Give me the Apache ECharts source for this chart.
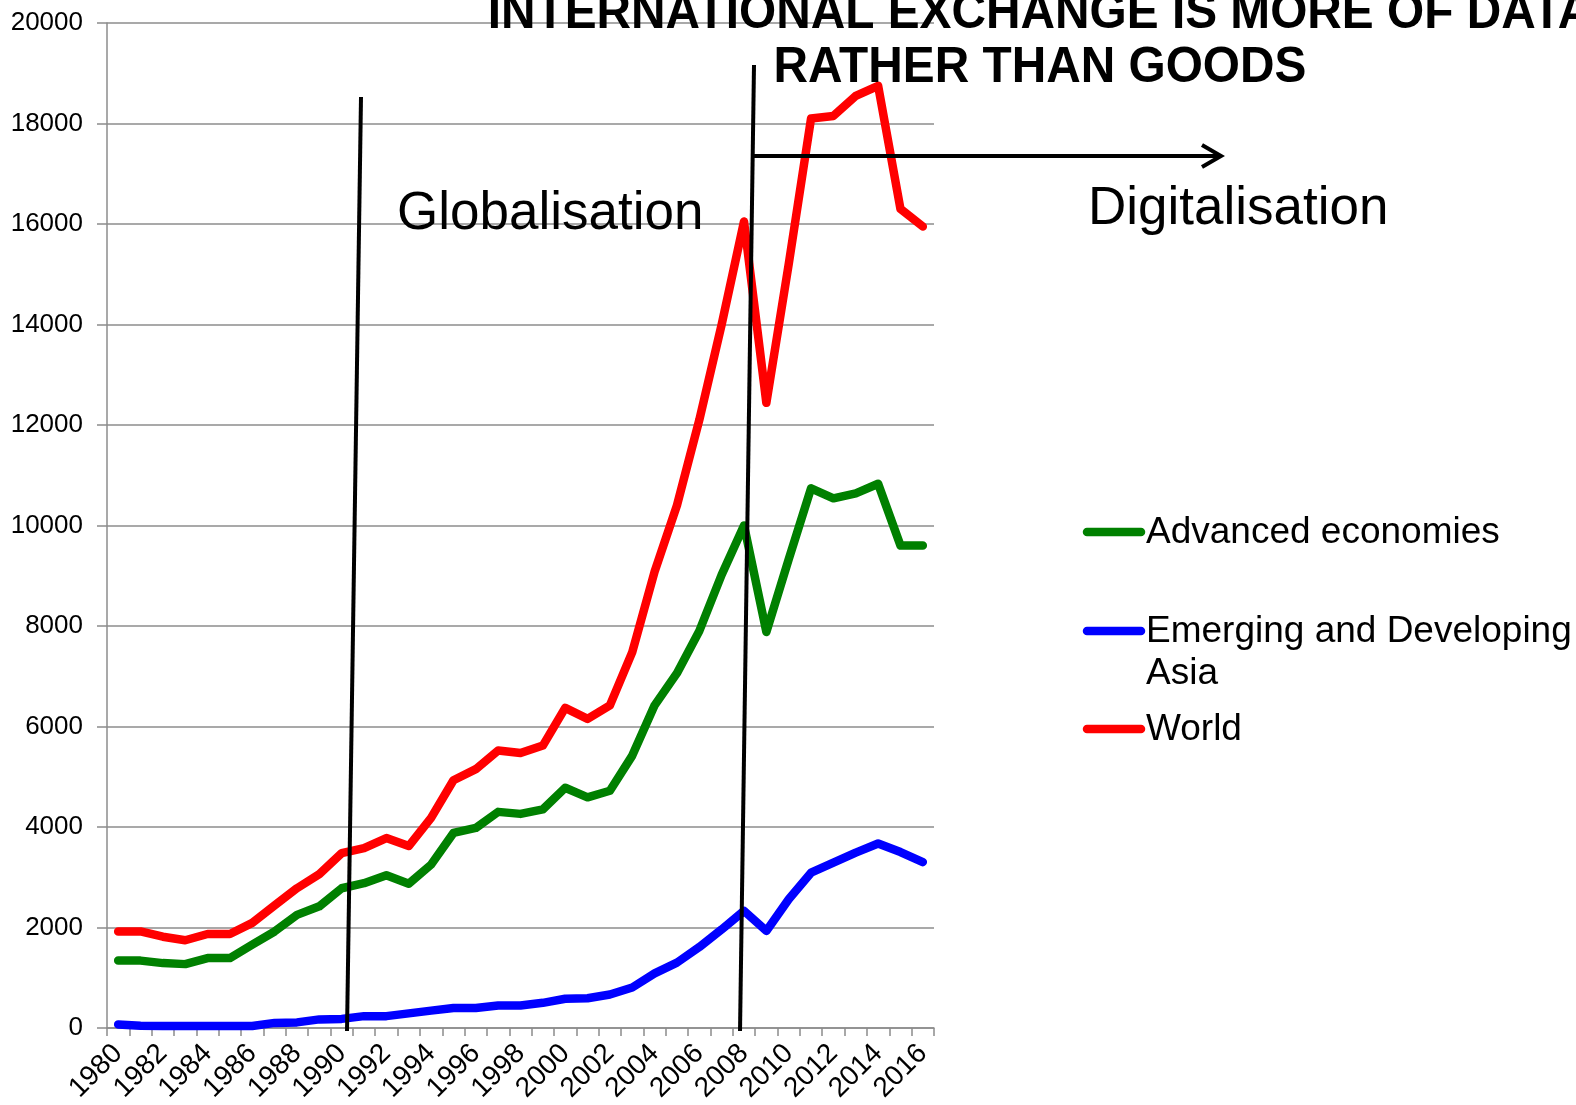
<!DOCTYPE html>
<html>
<head>
<meta charset="utf-8">
<title>International exchange</title>
<script src="https://cdn.jsdelivr.net/npm/echarts@6/dist/echarts.min.js"></script>
<style>
  html, body { margin: 0; padding: 0; background: #fff; }
  #chart { width: 1576px; height: 1105px; }
</style>
</head>
<body>
<div id="chart"></div>
<script>
// Years on the category axis
const years = [
  '1980','1981','1982','1983','1984','1985','1986','1987','1988','1989',
  '1990','1991','1992','1993','1994','1995','1996','1997','1998','1999',
  '2000','2001','2002','2003','2004','2005','2006','2007','2008','2009',
  '2010','2011','2012','2013','2014','2015','2016'
];

const advancedEconomies = [
  1340, 1340, 1290, 1270, 1390, 1390, 1660, 1920, 2250, 2420,
  2780, 2880, 3040, 2870, 3250, 3880, 3980, 4300, 4260, 4350,
  4780, 4590, 4720, 5420, 6420, 7060, 7900, 9020, 10000, 7880,
  9330, 10740, 10540, 10640, 10830, 9600, 9600
];

const emergingAsia = [
  70, 45, 40, 40, 40, 40, 40, 100, 110, 170,
  180, 235, 235, 290, 345, 395, 395, 445, 445, 500,
  580, 590, 665, 805, 1085, 1300, 1610, 1960, 2330, 1930,
  2560, 3090, 3290, 3490, 3670, 3500, 3300
];

const world = [
  1920, 1920, 1815, 1745, 1870, 1870, 2090, 2440, 2780, 3060,
  3480, 3580, 3780, 3620, 4180, 4930, 5150, 5520, 5470, 5620,
  6370, 6150, 6420, 7480, 9080, 10400, 12100, 14000, 16050, 12440,
  15200, 18100, 18150, 18550, 18750, 16300, 15950
];

const yTicks = { min: 0, max: 20000, interval: 2000 };

const seriesDefs = [
  { name: 'Advanced economies', data: advancedEconomies, color: '#008000' },
  { name: 'Emerging and Developing Asia', data: emergingAsia, color: '#0000ff' },
  { name: 'World', data: world, color: '#ff0000' }
];

const FONT = '"Liberation Sans", Arial, sans-serif';
const GRID = '#8c8c8c';
const LINE_W = 8.5;

const chart = echarts.init(document.getElementById('chart'), null, { renderer: 'canvas' });

// Legend entries drawn as short thick strokes with labels
const legendRows = [
  { y: 532, color: '#008000', text: 'Advanced economies' },
  { y: 631, color: '#0000ff', text: 'Emerging and Developing\nAsia' },
  { y: 729, color: '#ff0000', text: 'World' }
];
const legendGraphics = [];
legendRows.forEach(function (r) {
  legendGraphics.push({
    type: 'line', z: 20,
    shape: { x1: 1087, y1: r.y, x2: 1141, y2: r.y },
    style: { stroke: r.color, lineWidth: LINE_W, lineCap: 'round' }
  });
  legendGraphics.push({
    type: 'text', z: 20, x: 1146, y: r.y - 20,
    style: {
      text: r.text, font: '37px ' + FONT, fill: '#000',
      lineHeight: 42, verticalAlign: 'top', align: 'left'
    }
  });
});

const option = {
  backgroundColor: '#ffffff',
  animation: false,
  grid: { left: 107, right: 642, top: 23, bottom: 75, containLabel: false },
  xAxis: {
    type: 'category',
    data: years,
    boundaryGap: true,
    axisLine: { show: true, lineStyle: { color: GRID, width: 1.5 } },
    axisTick: { show: true, interval: 0, length: 8, lineStyle: { color: GRID, width: 1.5 } },
    axisLabel: {
      interval: 1, rotate: 45, margin: 21,
      fontFamily: FONT, fontSize: 28, color: '#000'
    },
    splitLine: { show: false }
  },
  yAxis: {
    type: 'value',
    min: yTicks.min, max: yTicks.max, interval: yTicks.interval,
    axisLine: { show: true, lineStyle: { color: GRID, width: 1.5 } },
    axisTick: { show: true, length: 10, lineStyle: { color: GRID, width: 1.5 } },
    axisLabel: {
      margin: 24, fontFamily: FONT, fontSize: 26, color: '#000',
      formatter: function (v) { return String(v); }
    },
    splitLine: { show: true, lineStyle: { color: GRID, width: 1.5 } }
  },
  series: seriesDefs.map(function (s) {
    return {
      name: s.name, type: 'line', data: s.data,
      symbol: 'none', smooth: false,
      lineStyle: { color: s.color, width: LINE_W, cap: 'round', join: 'round' },
      itemStyle: { color: s.color },
      z: 3
    };
  }),
  graphic: [
    // title
    {
      type: 'text', z: 30, x: 1040, y: 41, scaleX: 0.956,
      style: {
        text: 'INTERNATIONAL EXCHANGE IS MORE OF DATA\nRATHER THAN GOODS',
        font: 'bold 50px ' + FONT, fill: '#000',
        align: 'center', verticalAlign: 'middle', lineHeight: 54
      }
    },
    // period dividers
    {
      type: 'line', z: 25,
      shape: { x1: 361, y1: 97, x2: 347, y2: 1031 },
      style: { stroke: '#000', lineWidth: 4 }
    },
    {
      type: 'line', z: 25,
      shape: { x1: 754, y1: 65, x2: 740, y2: 1031 },
      style: { stroke: '#000', lineWidth: 4 }
    },
    // arrow toward the digital era
    {
      type: 'line', z: 25,
      shape: { x1: 752, y1: 156, x2: 1220, y2: 156 },
      style: { stroke: '#000', lineWidth: 4 }
    },
    {
      type: 'polyline', z: 25,
      shape: { points: [[1202, 145], [1221, 156], [1202, 167]] },
      style: { stroke: '#000', lineWidth: 4, fill: null, lineJoin: 'miter' }
    },
    {
      type: 'text', z: 25, x: 397, y: 214,
      style: { text: 'Globalisation', font: '53px ' + FONT, fill: '#000', verticalAlign: 'middle', align: 'left' }
    },
    {
      type: 'text', z: 25, x: 1088, y: 209,
      style: { text: 'Digitalisation', font: '53px ' + FONT, fill: '#000', verticalAlign: 'middle', align: 'left' }
    }
  ].concat(legendGraphics)
};

chart.setOption(option);
</script>
</body>
</html>
